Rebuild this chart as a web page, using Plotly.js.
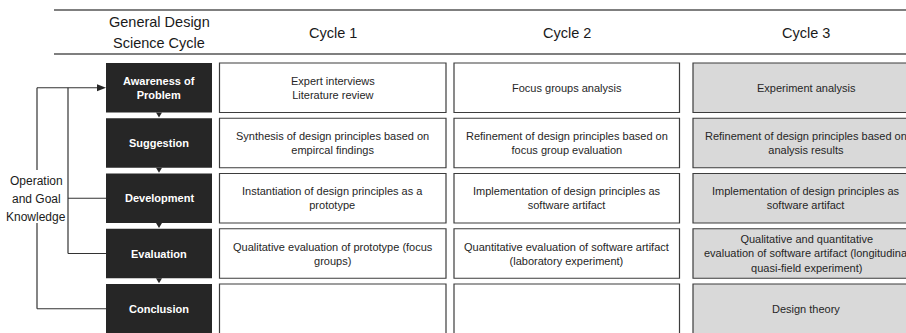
<!DOCTYPE html>
<html>
<head>
<meta charset="utf-8">
<script src="https://cdn.plot.ly/plotly-3.0.1.min.js"></script>
<style>html,body{margin:0;padding:0;background:#fff;}#chart{width:906px;height:333px;}</style>
</head>
<body>
<div id="chart"></div>
<script>
// ---- content ----
var headerLabel = ["General Design", "Science Cycle"];
var cycles = ["Cycle 1", "Cycle 2", "Cycle 3"];
var stages = ["Awareness of<br>Problem", "Suggestion", "Development", "Evaluation", "Conclusion"];
var cycle1 = [
  "Expert interviews<br>Literature review",
  "Synthesis of design principles based on<br>empircal findings",
  "Instantiation of design principles as a<br>prototype",
  "Qualitative evaluation of prototype (focus<br>groups)",
  ""
];
var cycle2 = [
  "Focus groups analysis",
  "Refinement of design principles based on<br>focus group evaluation",
  "Implementation of design principles as<br>software artifact",
  "Quantitative evaluation of software artifact<br>(laboratory experiment)",
  ""
];
var cycle3 = [
  "Experiment analysis",
  "Refinement of design principles based on<br>analysis results",
  "Implementation of design principles as<br>software artifact",
  "Qualitative and quantitative<br>evaluation of software artifact (longitudinal<br>quasi-field experiment)",
  "Design theory"
];
var knowledgeLabel = ["Operation", "and Goal", "Knowledge"];

// ---- layout geometry ----
var FONT = "Liberation Sans, Arial, Helvetica, sans-serif";
var rowTop0 = 63, rowPitch = 55.25, rowH = 49.5;
var stageX = [106, 212];
var colX = [[219.5, 446], [454, 679.5], [693, 919]];
var colFill = ["#ffffff", "#ffffff", "#d9d9d9"];
var cycleTexts = [cycle1, cycle2, cycle3];

var shapes = [];
var annotations = [];

// header rules
shapes.push({type:"line", x0:54, x1:906, y0:10, y1:10, line:{color:"#555", width:1.3}});
shapes.push({type:"line", x0:54, x1:906, y0:54, y1:54, line:{color:"#555", width:1.3}});

// header text
annotations.push({x:159, y:22, text:headerLabel[0], showarrow:false, font:{family:FONT, size:14.5, color:"#1a1a1a"}, xanchor:"center", yanchor:"middle"});
annotations.push({x:159, y:43, text:headerLabel[1], showarrow:false, font:{family:FONT, size:14.5, color:"#1a1a1a"}, xanchor:"center", yanchor:"middle"});
cycles.forEach(function(c, j){
  annotations.push({x:(colX[j][0]+colX[j][1])/2, y:32.5, text:c, showarrow:false,
    font:{family:FONT, size:14.5, color:"#1a1a1a"}, xanchor:"center", yanchor:"middle"});
});

// rows
stages.forEach(function(s, i){
  var y0 = rowTop0 + i*rowPitch, y1 = y0 + rowH, yc = (y0+y1)/2;
  shapes.push({type:"rect", x0:stageX[0], x1:stageX[1], y0:y0, y1:y1,
    fillcolor:"#262626", line:{color:"#262626", width:0}});
  annotations.push({x:(stageX[0]+stageX[1])/2, y:yc, text:"<b>"+s+"</b>", showarrow:false,
    font:{family:FONT, size:11, color:"#ffffff"}, xanchor:"center", yanchor:"middle"});
  // small down triangle between stage boxes
  if (i < stages.length-1) {
    var cx = (stageX[0]+stageX[1])/2;
    shapes.push({type:"path", path:"M "+(cx-3)+" "+y1+" L "+(cx+3)+" "+y1+" L "+cx+" "+(y1+5)+" Z",
      fillcolor:"#262626", line:{color:"#262626", width:0}});
  }
  cycleTexts.forEach(function(arr, j){
    shapes.push({type:"rect", x0:colX[j][0], x1:colX[j][1], y0:y0, y1:y1,
      fillcolor:colFill[j], line:{color:"#3d3d3d", width:1.2}});
    if (arr[i]) {
      annotations.push({x:(colX[j][0]+colX[j][1])/2, y:yc, text:arr[i], showarrow:false,
        font:{family:FONT, size:11, color:"#262626"}, xanchor:"center", yanchor:"middle"});
    }
  });
});

// feedback lines on the left
function rc(i){ return rowTop0 + i*rowPitch + rowH/2; }
var lc = {color:"#333", width:1.2};
var outerX = 37, innerX = 68;
shapes.push({type:"line", x0:outerX, x1:98, y0:rc(0), y1:rc(0), line:lc});
shapes.push({type:"path", path:"M 97 "+(rc(0)-3.5)+" L 106 "+rc(0)+" L 97 "+(rc(0)+3.5)+" Z",
  fillcolor:"#262626", line:{color:"#262626", width:0}});
shapes.push({type:"line", x0:outerX, x1:outerX, y0:rc(0), y1:170, line:lc});
shapes.push({type:"line", x0:outerX, x1:outerX, y0:223, y1:rc(4), line:lc});
shapes.push({type:"line", x0:outerX, x1:stageX[0], y0:rc(4), y1:rc(4), line:lc});
shapes.push({type:"line", x0:innerX, x1:innerX, y0:rc(0), y1:rc(3), line:lc});
shapes.push({type:"line", x0:innerX, x1:stageX[0], y0:rc(3), y1:rc(3), line:lc});
shapes.push({type:"line", x0:innerX, x1:stageX[0], y0:rc(2), y1:rc(2), line:lc});

knowledgeLabel.forEach(function(t, k){
  annotations.push({x:36, y:181 + k*18, text:t, showarrow:false,
    font:{family:FONT, size:12, color:"#1a1a1a"}, xanchor:"center", yanchor:"middle",
    bgcolor:"rgba(255,255,255,0)"});
});

var layout = {
  width:906, height:333,
  margin:{l:0, r:0, t:0, b:0},
  paper_bgcolor:"#ffffff", plot_bgcolor:"#ffffff",
  xaxis:{range:[0,906], visible:false, fixedrange:true},
  yaxis:{range:[333,0], visible:false, fixedrange:true},
  showlegend:false,
  shapes:shapes,
  annotations:annotations
};
Plotly.newPlot("chart", [{x:[], y:[], type:"scatter", mode:"markers", hoverinfo:"skip"}], layout, {displayModeBar:false, staticPlot:true});
</script>
</body>
</html>
